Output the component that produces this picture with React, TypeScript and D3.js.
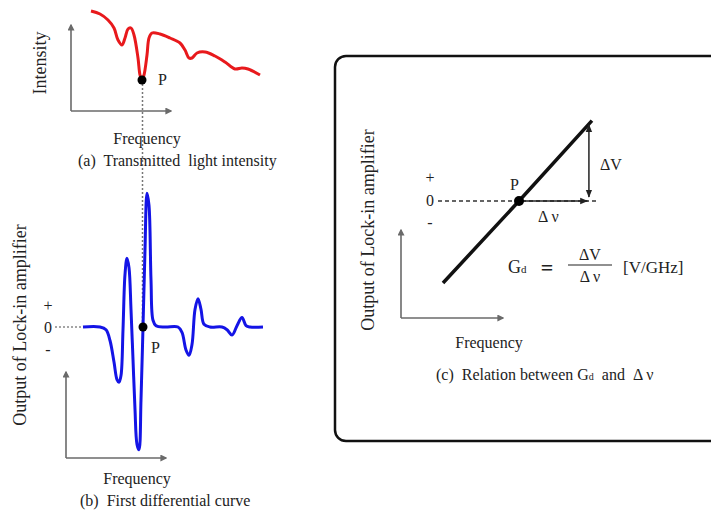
import React from 'react';
import * as d3 from 'd3';

// (a) transmitted light intensity, sampled along frequency (arbitrary units)
const intensityFreq = [1, 10, 18, 24, 28, 32, 35, 38, 41, 44, 48, 50, 52, 54, 57, 59, 62, 70, 80, 90, 95, 99, 102, 107, 115, 125, 135, 145, 152, 158, 170];
const intensityValue = [0.99, 0.96, 0.9, 0.82, 0.7, 0.65, 0.72, 0.81, 0.82, 0.75, 0.52, 0.35, 0.3, 0.35, 0.55, 0.72, 0.77, 0.76, 0.72, 0.67, 0.6, 0.52, 0.52, 0.57, 0.58, 0.54, 0.48, 0.41, 0.42, 0.41, 0.35];

// (b) first differential curve (lock-in output)
const diffFreq = [-7, 10, 16, 20, 24, 27, 29, 31, 33, 35, 37, 39, 41, 43, 45, 47, 49, 51, 53, 55, 57, 59, 61, 63, 66, 75, 88, 92, 96, 99, 102, 105, 108, 111, 114, 120, 132, 137, 142, 147, 152, 156, 160, 173];
const diffValue = [0, 0, -0.02, -0.1, -0.26, -0.39, -0.41, -0.36, -0.02, 0.39, 0.51, 0.44, 0.13, -0.24, -0.61, -0.87, -0.91, -0.54, 0, 0.57, 0.99, 0.9, 0.35, 0.05, 0.01, 0, 0, -0.04, -0.17, -0.21, -0.13, 0.13, 0.21, 0.13, 0.02, 0, 0, -0.02, -0.06, 0.01, 0.07, 0.01, 0, 0];
const pointP = 52.5;

// (c) linear relation around P
const relFreq = [-1, 0, 0.96];
const relValue = [-1, 0, 0.98];
const deltaNu = 0.9;
const deltaV = [0.93, 0.05];

const signLabels = ['+', '0', '-'];

const FONT = '"Liberation Serif", "Times New Roman", serif';
const TXT = '#222';
const AXIS = '#6a6a6a';

function App() {
  const x = d3.scaleLinear().domain([0, 180]).range([90, 270]);
  const yA = d3.scaleLinear().domain([0, 1]).range([110, 10]);
  const yB = d3.scaleLinear().domain([-1, 1]).range([462, 192]);
  const xC = d3.scaleLinear().domain([-1, 1]).range([443, 595]);
  const yC = d3.scaleLinear().domain([-1, 1]).range([283, 119]);

  const lineA = d3.line<number>().x((d, i) => x(intensityFreq[i])).y((d) => yA(d)).curve(d3.curveCatmullRom.alpha(0.5));
  const lineB = d3.line<number>().x((d, i) => x(diffFreq[i])).y((d) => yB(d)).curve(d3.curveCatmullRom.alpha(0.5));
  const lineC = d3.line<number>().x((d, i) => xC(relFreq[i])).y((d) => yC(d));

  const minIdx = d3.minIndex(intensityValue);
  const pA = [x(intensityFreq[minIdx]), yA(intensityValue[minIdx])];
  const pB = [x(53), yB(0)];

  const t = (props: any, s: string) => (
    <text fontFamily={FONT} fill={TXT} {...props}>{s}</text>
  );

  const axes = (ox: number, oy: number, top: number, right: number) => (
    <g stroke={AXIS} strokeWidth={1.6} fill="none">
      <line x1={ox} y1={oy} x2={ox} y2={top + 2} markerEnd="url(#ax)" />
      <line x1={ox} y1={oy} x2={right - 2} y2={oy} markerEnd="url(#ax)" />
    </g>
  );

  return (
    <svg width={711} height={510} style={{ position: 'absolute', left: 0, top: 0, background: '#fff' }}>
      <defs>
        <marker id="ax" viewBox="0 0 10 10" refX={8} refY={5} markerWidth={7} markerHeight={7} markerUnits="userSpaceOnUse" orient="auto">
          <path d="M0,0L10,5L0,10z" fill={AXIS} />
        </marker>
        <marker id="ar" viewBox="0 0 10 10" refX={9} refY={5} markerWidth={8} markerHeight={8} markerUnits="userSpaceOnUse" orient="auto-start-reverse">
          <path d="M0,1L10,5L0,9z" fill="#222" />
        </marker>
      </defs>

      {/* dotted guide through P */}
      <line x1={x(pointP)} x2={x(pointP)} y1={pA[1]} y2={pB[1]} stroke="#777" strokeWidth={1.5} strokeDasharray="2,2" />

      {/* (a) */}
      {axes(71, 111, 23, 173)}
      <path d={lineA(intensityValue) || ''} fill="none" stroke="#e8191c" strokeWidth={3} />
      <circle cx={pA[0]} cy={pA[1]} r={4.5} fill="#000" />
      {t({ x: 158, y: 85, fontSize: 16 }, 'P')}
      {t({ transform: 'translate(46,63) rotate(-90)', textAnchor: 'middle', fontSize: 18 }, 'Intensity')}
      {t({ x: 147, y: 144, textAnchor: 'middle', fontSize: 16 }, 'Frequency')}
      {t({ x: 78, y: 166, fontSize: 16, style: { whiteSpace: 'pre' } }, '(a)  Transmitted  light intensity')}

      {/* (b) */}
      <line x1={55} x2={x(diffFreq[0])} y1={yB(0)} y2={yB(0)} stroke="#888" strokeWidth={1.3} strokeDasharray="2,2" />
      {signLabels.map((s, i) => t({ key: s, x: 48, y: [311, 333, 355][i], textAnchor: 'middle', fontSize: 16 }, s))}
      <path d={lineB(diffValue) || ''} fill="none" stroke="#1414e6" strokeWidth={3} />
      <circle cx={pB[0]} cy={pB[1]} r={4.5} fill="#000" />
      {t({ x: 151, y: 353, fontSize: 16 }, 'P')}
      {axes(66, 458, 370, 168)}
      {t({ transform: 'translate(26,325) rotate(-90)', textAnchor: 'middle', fontSize: 18 }, 'Output of Lock-in amplifier')}
      {t({ x: 137, y: 484, textAnchor: 'middle', fontSize: 16 }, 'Frequency')}
      {t({ x: 80, y: 506, fontSize: 16, style: { whiteSpace: 'pre' } }, '(b)  First differential curve')}

      {/* (c) */}
      <rect x={335} y={56} width={400} height={385} rx={11} fill="none" stroke="#111" strokeWidth={2.5} />
      {t({ transform: 'translate(374,230) rotate(-90)', textAnchor: 'middle', fontSize: 18 }, 'Output of Lock-in amplifier')}
      {axes(401, 318, 228, 505)}
      <line x1={438} x2={597} y1={yC(0)} y2={yC(0)} stroke="#333" strokeWidth={1.3} strokeDasharray="4,3" />
      {signLabels.map((s, i) => t({ key: 'c' + s, x: 430, y: [183, 206, 228][i], textAnchor: 'middle', fontSize: 16 }, s))}
      <path d={lineC(relValue) || ''} fill="none" stroke="#111" strokeWidth={3.5} />
      <line x1={xC(0)} y1={yC(0)} x2={xC(deltaNu)} y2={yC(0)} stroke="#222" strokeWidth={1.5} markerEnd="url(#ar)" />
      <line x1={xC(0.92)} y1={yC(deltaV[0])} x2={xC(0.92)} y2={yC(deltaV[1])} stroke="#222" strokeWidth={1.5} markerEnd="url(#ar)" markerStart="url(#ar)" />
      <circle cx={xC(0)} cy={yC(0)} r={5} fill="#000" />
      {t({ x: 510, y: 190, fontSize: 16 }, 'P')}
      {t({ x: 600, y: 170, fontSize: 16 }, 'ΔV')}
      {t({ x: 538, y: 222, fontSize: 16, style: { whiteSpace: 'pre' } }, 'Δ ν')}

      <text x={508} y={273} fontFamily={FONT} fill={TXT} fontSize={18}>G<tspan fontSize={11}>d</tspan></text>
      {t({ x: 547, y: 275, textAnchor: 'middle', fontSize: 22, fontWeight: 'bold' }, '=')}
      {t({ x: 590, y: 260, textAnchor: 'middle', fontSize: 16 }, 'ΔV')}
      <line x1={568} x2={612} y1={265} y2={265} stroke="#222" strokeWidth={1.2} />
      {t({ x: 590, y: 282, textAnchor: 'middle', fontSize: 16, style: { whiteSpace: 'pre' } }, 'Δ ν')}
      {t({ x: 623, y: 273, fontSize: 17 }, '[V/GHz]')}

      {t({ x: 489, y: 348, textAnchor: 'middle', fontSize: 16 }, 'Frequency')}
      <text x={436} y={380} fontFamily={FONT} fill={TXT} fontSize={16} style={{ whiteSpace: 'pre' }}>
        {'(c)  Relation between G'}<tspan fontSize={10}>d</tspan>{'  and  Δ ν'}
      </text>
    </svg>
  );
}

export default App;
